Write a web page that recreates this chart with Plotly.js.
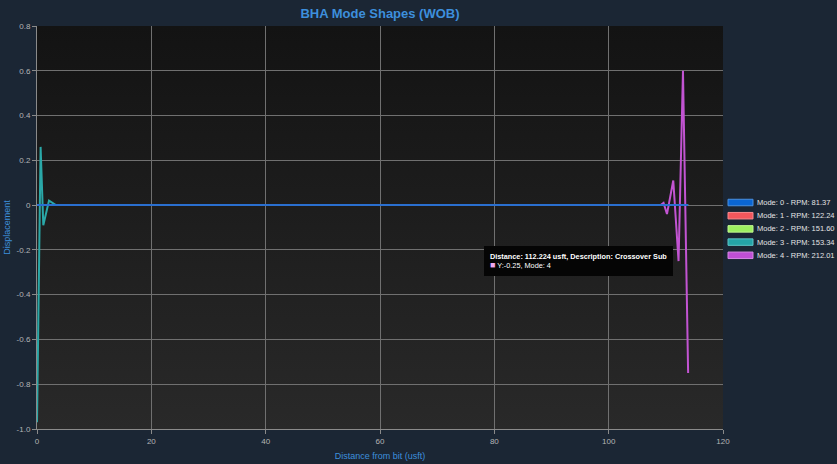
<!DOCTYPE html>
<html>
<head>
<meta charset="utf-8">
<script src="https://cdn.plot.ly/plotly-3.0.1.min.js"></script>
<style>
html,body{margin:0;padding:0;background:#1b2634;}
#chart{width:837px;height:464px;}
</style>
</head>
<body>
<div id="chart"></div>
<script>
// Distance from bit (usft) of the BHA nodes
var distance = [0, 0.63, 1.1, 2.1, 3.3, 20, 40, 60, 80, 100, 109.1, 109.6, 110.2, 111.3, 112.224, 113.0, 113.9];
// Mode shape displacements at each node
var mode0 = [0, 0, 0, 0, 0, 0, 0, 0, 0, 0, 0, 0, 0, 0, 0, 0, 0];
var mode1 = [0, 0, 0, 0, 0, 0, 0, 0, 0, 0, 0, 0, 0, 0, 0, 0, 0];
var mode2 = [0, 0, 0, 0, 0, 0, 0, 0, 0, 0, 0, 0, 0, 0, 0, 0, 0];
var mode3 = [-0.97, 0.26, -0.09, 0.02, 0, 0, 0, 0, 0, 0, 0, 0, 0, 0, 0, 0, 0];
var mode4 = [0, 0, 0, 0, 0, 0, 0, 0, 0, 0, 0, 0.01, -0.04, 0.11, -0.25, 0.60, -0.75];

var modeNames = ['Mode: 0 - RPM: 81.37', 'Mode: 1 - RPM: 122.24', 'Mode: 2 - RPM: 151.60', 'Mode: 3 - RPM: 153.34', 'Mode: 4 - RPM: 212.01'];
var modeData = [mode0, mode1, mode2, mode3, mode4];
var lineColors = ['#2a6fd0', '#f05a5a', '#98ec5a', '#2aa8a8', '#c254d2'];
var swatchColors = ['#0a66d4', '#f4575c', '#9cf060', '#24a4a8', '#c04fd6'];
var swatchBorders = ['#4a90e0', '#f88a8e', '#c0f890', '#5cc4c6', '#d888e6'];

var yTickVals = [0.8, 0.6, 0.4, 0.2, 0, -0.2, -0.4, -0.6, -0.8, -1.0];
var yTickText = ['0.8', '0.6', '0.4', '0.2', '0', '-0.2', '-0.4', '-0.6', '-0.8', '-1.0'];
var xTickVals = [0, 20, 40, 60, 80, 100, 120];

var tipDistance = 112.224, tipY = -0.25, tipMode = 4, tipDesc = 'Crossover Sub';

var traces = [];
// draw modes 1..4 first, mode 0 on top
[1, 2, 3, 4, 0].forEach(function (i) {
  traces.push({
    x: distance, y: modeData[i], type: 'scatter', mode: 'lines', name: modeNames[i],
    line: {color: lineColors[i], width: 2}, showlegend: false, hoverinfo: 'skip'
  });
});

var grad = 'data:image/svg+xml;utf8,' + encodeURIComponent(
  '<svg xmlns="http://www.w3.org/2000/svg" width="100" height="100" preserveAspectRatio="none">' +
  '<defs><linearGradient id="g" x1="0" y1="0" x2="0" y2="1">' +
  '<stop offset="0" stop-color="#131313"/><stop offset="1" stop-color="#292929"/></linearGradient></defs>' +
  '<rect width="100" height="100" fill="url(#g)"/></svg>');

// custom legend (compact spacing like the reference)
var plotW = 686, plotH = 403;
var legLeftPx = 691, legTopPx = 176.5, legStepPx = 13.2, swW = 25, swH = 6.5;
var shapes = [], annotations = [];
for (var k = 0; k < modeNames.length; k++) {
  var cy = legTopPx + k * legStepPx;
  shapes.push({
    type: 'rect', xref: 'paper', yref: 'paper',
    x0: legLeftPx / plotW, x1: (legLeftPx + swW) / plotW,
    y0: 1 - (cy + swH / 2) / plotH, y1: 1 - (cy - swH / 2) / plotH,
    fillcolor: swatchColors[k], line: {color: swatchBorders[k], width: 1}
  });
  annotations.push({
    xref: 'paper', yref: 'paper', x: (legLeftPx + swW + 2) / plotW, y: 1 - cy / plotH,
    xanchor: 'left', yanchor: 'middle', showarrow: false, text: modeNames[k],
    font: {size: 7.5, color: '#e4e4e4'}
  });
}
annotations.push({
  x: tipDistance, y: tipY, xref: 'x', yref: 'y', xanchor: 'right', yanchor: 'middle',
  xshift: -6, showarrow: false, align: 'left',
  text: '<b>Distance: ' + tipDistance + ' usft, Description: ' + tipDesc + '</b><br>' +
        '<span style="color:#f0a8f0;font-size:9px">■</span> Y:' + tipY + ', Mode: ' + tipMode,
  font: {size: 7.3, color: '#ffffff'},
  bgcolor: '#050505', bordercolor: '#050505', borderpad: 5
});

var layout = {
  width: 837, height: 464,
  paper_bgcolor: '#1b2634',
  plot_bgcolor: 'rgba(0,0,0,0)',
  margin: {l: 37, r: 114, t: 26, b: 35, autoexpand: false},
  font: {family: 'Liberation Sans, Arial, sans-serif', color: '#b4b4b4', size: 8},
  title: {text: '<b>BHA Mode Shapes (WOB)</b>', x: 0.5, xref: 'paper', y: 0.972, yanchor: 'middle',
          font: {size: 13, color: '#3d8fdc', family: 'Liberation Sans, Arial, sans-serif'}},
  images: [{source: grad, xref: 'paper', yref: 'paper', x: 0, y: 1, sizex: 1, sizey: 1,
            sizing: 'stretch', xanchor: 'left', yanchor: 'top', layer: 'below'}],
  xaxis: {
    range: [0, 120], tickvals: xTickVals, ticktext: xTickVals.map(String),
    showgrid: true, gridcolor: '#707070', gridwidth: 1, zeroline: false,
    showline: true, linecolor: '#8a8a8a', linewidth: 1,
    ticks: 'outside', ticklen: 4, tickcolor: '#8a8a8a',
    tickfont: {size: 8, color: '#b4b4b4'},
    title: {text: 'Distance from bit (usft)', font: {size: 9, color: '#3d8fdc'}, standoff: 8}
  },
  yaxis: {
    range: [-1.0, 0.8], tickvals: yTickVals, ticktext: yTickText,
    showgrid: true, gridcolor: '#707070', gridwidth: 1, zeroline: false,
    showline: true, linecolor: '#8a8a8a', linewidth: 1,
    ticks: 'outside', ticklen: 4, tickcolor: '#8a8a8a',
    tickfont: {size: 8, color: '#b4b4b4'},
    title: {text: 'Displacement', font: {size: 9, color: '#3d8fdc'}, standoff: 4}
  },
  showlegend: false,
  shapes: shapes,
  annotations: annotations,
  hovermode: false
};

Plotly.newPlot('chart', traces, layout, {displayModeBar: false, staticPlot: true});
</script>
</body>
</html>
